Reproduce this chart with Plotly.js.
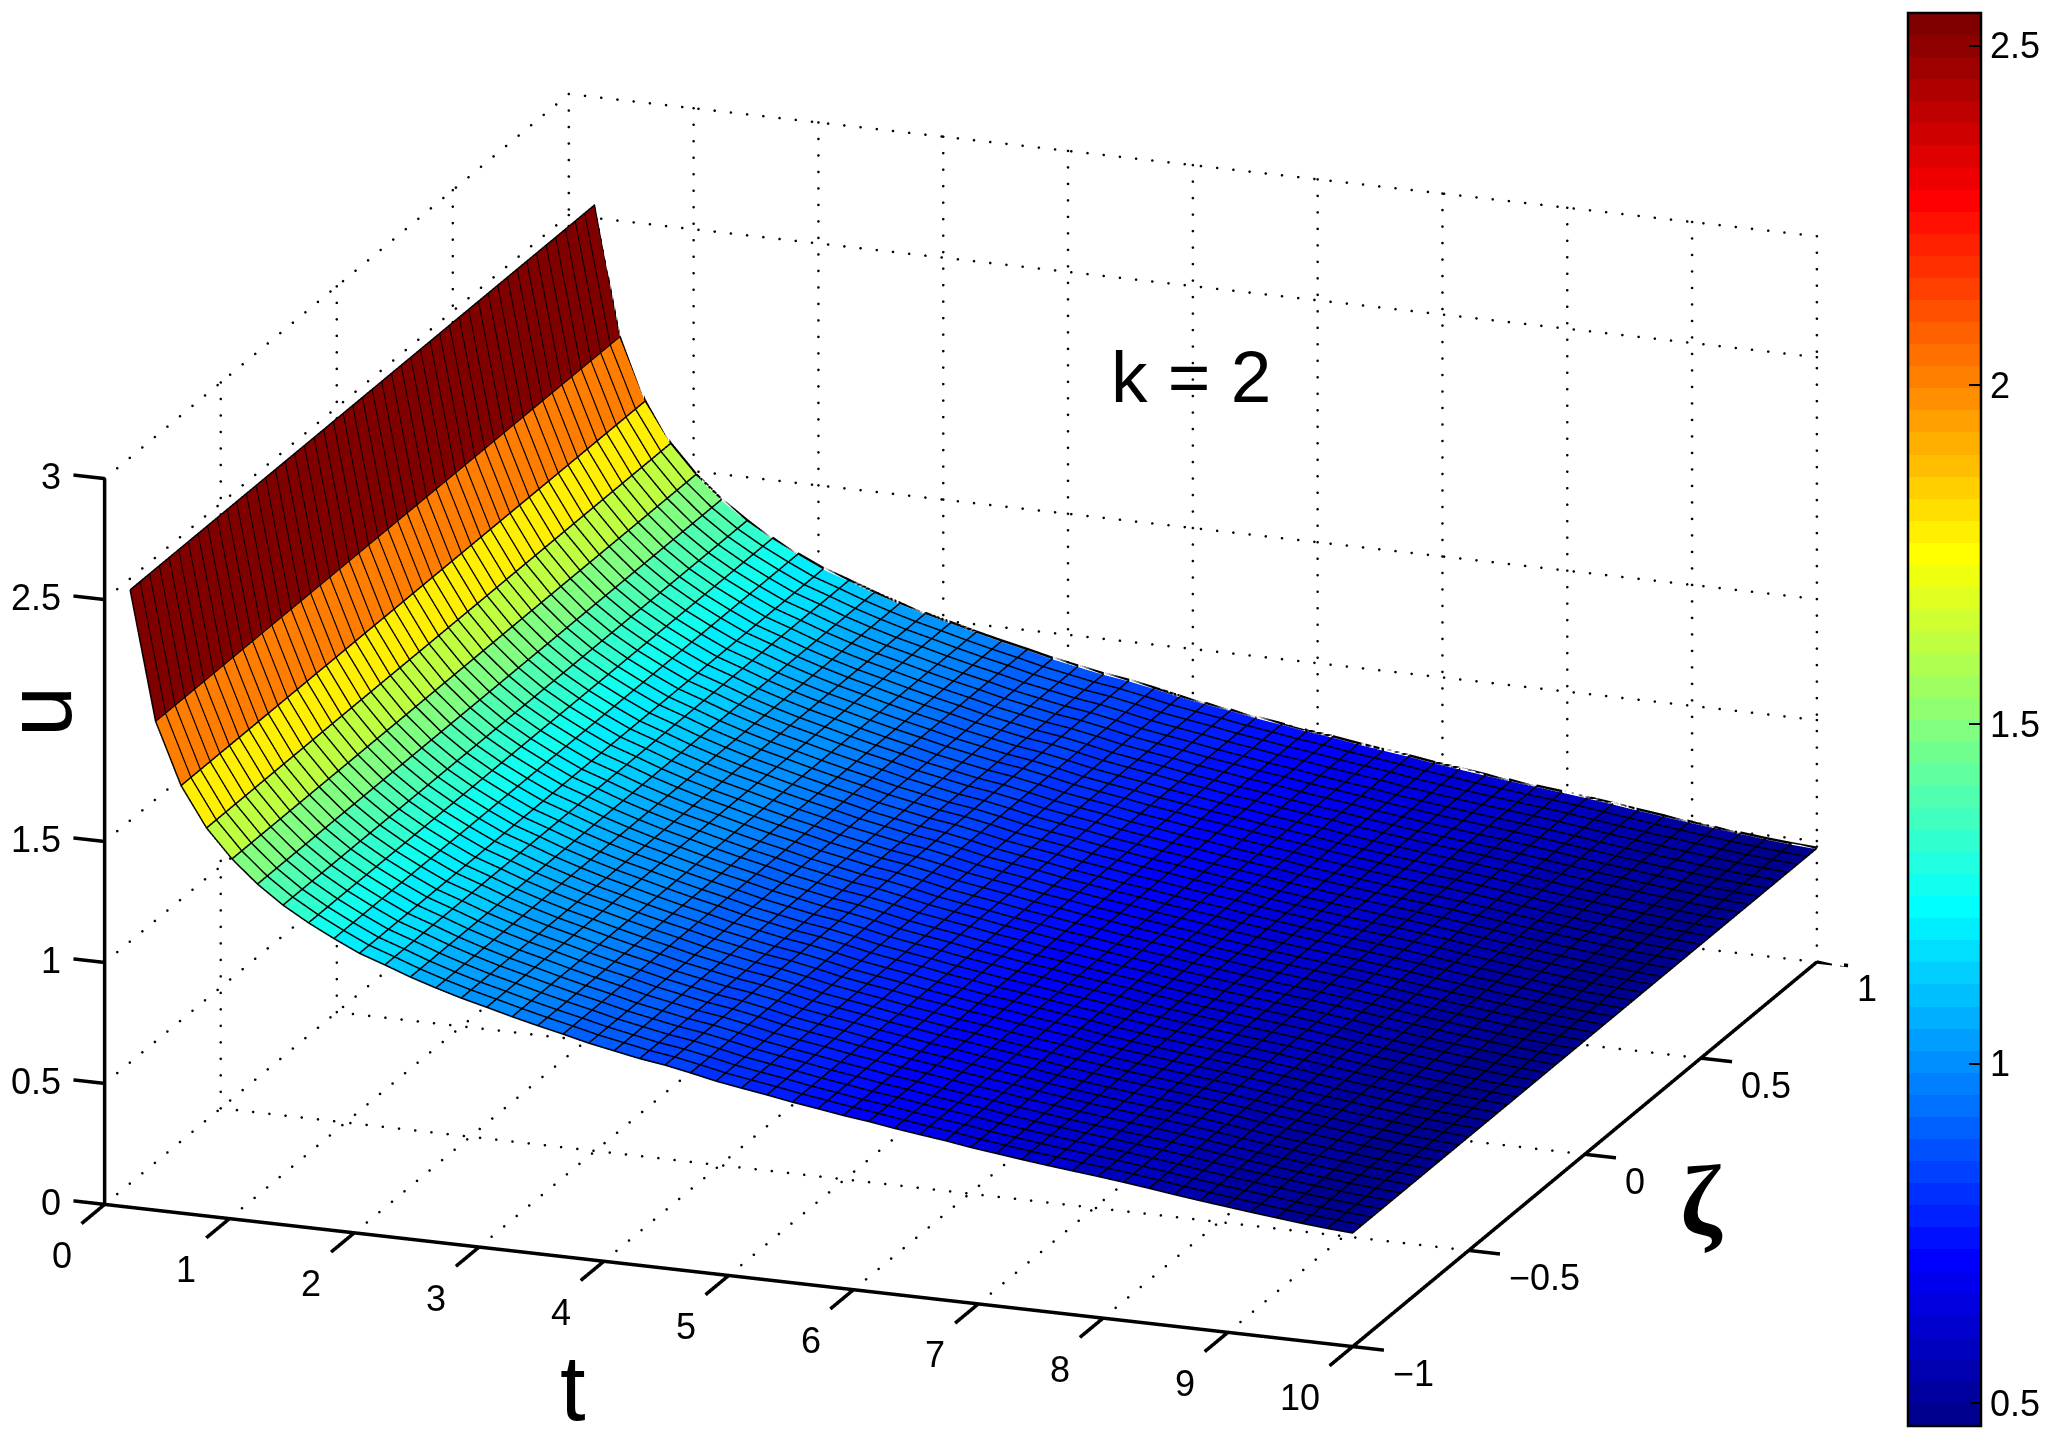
<!DOCTYPE html>
<html>
<head>
<meta charset="utf-8">
<script src="https://cdn.plot.ly/plotly-3.0.0.min.js"></script>
<style>html,body{margin:0;padding:0;background:#fff}</style>
</head>
<body>
<div id="chart" style="width:2057px;height:1439px"></div>
<script>
// Sample positions along t (49 rows)
var tValues = [0.204,0.408,0.612,0.816,1.020,1.224,1.429,1.633,1.837,2.041,2.245,2.449,2.653,2.857,3.061,3.265,3.469,3.673,3.878,4.082,4.286,4.490,4.694,4.898,5.102,5.306,5.510,5.714,5.918,6.122,6.327,6.531,6.735,6.939,7.143,7.347,7.551,7.755,7.959,8.163,8.367,8.571,8.776,8.980,9.184,9.388,9.592,9.796,10.0];
// Sample positions along zeta (49 columns)
var zetaValues = [-1,-0.958,-0.917,-0.875,-0.833,-0.792,-0.75,-0.708,-0.667,-0.625,-0.583,-0.542,-0.5,-0.458,-0.417,-0.375,-0.333,-0.292,-0.25,-0.208,-0.167,-0.125,-0.083,-0.042,0,0.042,0.083,0.125,0.167,0.208,0.25,0.292,0.333,0.375,0.417,0.458,0.5,0.542,0.583,0.625,0.667,0.708,0.75,0.792,0.833,0.875,0.917,0.958,1];
// u for each t row (it does not vary along zeta)
var uValues = [2.548,2.017,1.763,1.600,1.484,1.392,1.317,1.256,1.203,1.154,1.118,1.080,1.047,1.017,0.991,0.964,0.939,0.916,0.891,0.871,0.851,0.836,0.816,0.794,0.777,0.761,0.743,0.728,0.712,0.699,0.683,0.669,0.656,0.640,0.627,0.614,0.602,0.591,0.580,0.568,0.555,0.541,0.528,0.516,0.504,0.493,0.482,0.473,0.466];
var tTicks = [0,1,2,3,4,5,6,7,8,9,10];
var tTickText = ['0','1','2','3','4','5','6','7','8','9','10'];
var zetaTicks = [-1,-0.5,0,0.5,1];
var zetaTickText = ['−1','−0.5','0','0.5','1'];
var uTicks = [0,0.5,1,1.5,2.5,3];
var uTickText = ['0','0.5','1','1.5','2.5','3'];
var barTicks = [0.5,1,1.5,2,2.5];
var barTickText = ['0.5','1','1.5','2','2.5'];
var uMin = 0.466, uMax = 2.548;

// MATLAB jet, 64 flat levels
function ramp(j){ if(j<1||j>47) return 0; if(j<=16) return j/16; if(j<=31) return 1; return (48-j)/16; }
function jetLevel(i){
  return 'rgb('+Math.round(255*ramp(i-24))+','+Math.round(255*ramp(i-8))+','+Math.round(255*ramp(i+8))+')';
}
function jetScale(){
  var out=[], i, c;
  for(i=1;i<=64;i++){ c=jetLevel(i); out.push([(i-1)/64,c]); out.push([i/64,c]); }
  return out;
}

// rows doubled so each mesh cell keeps one flat colour, the colour of its first vertex
var tRows=[], zRows=[], cRows=[];
tValues.forEach(function(t,k){
  if(k===tValues.length-1) return;
  [k,k+1].forEach(function(q){
    tRows.push(tValues[q]);
    zRows.push(zetaValues.map(function(){return uValues[q];}));
    cRows.push(zetaValues.map(function(){return uValues[k];}));
  });
});
function transpose(m){ return m[0].map(function(_,c){return m.map(function(r){return r[c];});}); }

var surface = {
  type:'surface', x:tRows, y:zetaValues, z:transpose(zRows), surfacecolor:transpose(cRows),
  cmin:uMin, cmax:uMax, colorscale:jetScale(), hoverinfo:'skip',
  lighting:{ambient:1,diffuse:0,specular:0,fresnel:0,roughness:1},
  colorbar:{
    x:1908/2057, xanchor:'left', xpad:0, y:1-13/1439, yanchor:'top', ypad:0,
    thicknessmode:'pixels', thickness:73, lenmode:'pixels', len:1413,
    outlinecolor:'#000', outlinewidth:2.5, borderwidth:0,
    tickmode:'array', tickvals:barTicks, ticktext:barTickText,
    ticks:'inside', ticklen:13, tickwidth:2, tickcolor:'#000',
    tickfont:{family:'Liberation Sans',size:36,color:'#000'}
  }
};

// wire mesh
var wx=[],wy=[],wz=[];
var lift=0.004;
tValues.forEach(function(t,k){
  zetaValues.forEach(function(ze){wx.push(t);wy.push(ze);wz.push(uValues[k]+lift);});
  wx.push(null);wy.push(null);wz.push(null);
});
zetaValues.forEach(function(ze){
  tValues.forEach(function(t,k){wx.push(t);wy.push(ze);wz.push(uValues[k]+lift);});
  wx.push(null);wy.push(null);wz.push(null);
});
var wire = {type:'scatter3d',mode:'lines',x:wx,y:wy,z:wz,line:{color:'#000',width:3},hoverinfo:'skip',showlegend:false};

// far edge of the mesh, drawn on its own so it stays unbroken
var edge = {type:'scatter3d',mode:'lines',
  x:tValues,y:tValues.map(function(){return zetaValues[zetaValues.length-1];}),
  z:uValues.map(function(u){return u+2*lift;}),
  line:{color:'#000',width:3},hoverinfo:'skip',showlegend:false};

// dotted grid on floor and the two back walls
var gx=[],gy=[],gz=[];
function dots(a,b,n){
  for(var i=0;i<=n;i++){var f=i/n;
    gx.push(a[0]+(b[0]-a[0])*f);gy.push(a[1]+(b[1]-a[1])*f);gz.push(a[2]+(b[2]-a[2])*f);}
}
tTicks.forEach(function(t){dots([t,-1,0],[t,1,0],37);dots([t,1,0],[t,1,3],44);});
zetaTicks.forEach(function(ze){dots([0,ze,0],[10,ze,0],77);dots([0,ze,0],[0,ze,3],44);});
uTicks.forEach(function(u){dots([0,1,u],[10,1,u],77);dots([0,-1,u],[0,1,u],37);});
var grid = {type:'scatter3d',mode:'markers',x:gx,y:gy,z:gz,marker:{color:'#000',size:1.5,line:{width:0}},hoverinfo:'skip',showlegend:false};

// solid axes with their tick marks
var ax=[],ay=[],az=[];
function seg(a,b){ax.push(a[0],b[0],null);ay.push(a[1],b[1],null);az.push(a[2],b[2],null);}
seg([0,-1,0],[10,-1,0]);seg([10,-1,0],[10,1,0]);seg([0,-1,0],[0,-1,3]);
tTicks.forEach(function(t){seg([t,-1,0],[t,-1.1,0]);});
zetaTicks.forEach(function(ze){seg([10,ze,0],[10.25,ze,0]);});
uTicks.forEach(function(u){seg([0,-1,u],[-0.25,-1,u]);});
var axes = {type:'scatter3d',mode:'lines',x:ax,y:ay,z:az,line:{color:'#000',width:7},hoverinfo:'skip',showlegend:false};

function axisStyle(vals,text,range){
  return {range:range,autorange:false,tickmode:'array',tickvals:vals,ticktext:text,
    showgrid:false,zeroline:false,showbackground:false,showspikes:false,
    showline:false,ticks:'',showticklabels:false,title:{text:''}};
}
var tickFont={family:'Liberation Sans',size:36,color:'#000'};
function label(x,y,z,text,xa,xs,ys){
  return {x:x,y:y,z:z,text:text,showarrow:false,xanchor:xa,yanchor:'middle',xshift:xs,yshift:ys,font:tickFont};
}
var tickLabels=[];
tTicks.forEach(function(t,i){tickLabels.push(label(t,-1,0,tTickText[i],'right',-31,-51));});
zetaTicks.forEach(function(ze,i){tickLabels.push(label(10,ze,0,zetaTickText[i],'left',38,-27));});
uTicks.forEach(function(u,i){tickLabels.push(label(0,-1,u,uTickText[i],'right',-42,2));});

var d=2, k=1.85, cz=0.0166;
var layout = {
  width:2057,height:1439,autosize:false,
  margin:{l:0,r:0,t:0,b:0,pad:0},
  paper_bgcolor:'#fff',showlegend:false,
  scene:{
    domain:{x:[0,1896/2057],y:[0,1]},
    aspectmode:'manual',aspectratio:{x:1.052*k,y:1.003*1.055*k,z:0.573*k},
    camera:{projection:{type:'orthographic'},up:{x:0,y:0,z:1},center:{x:0,y:0,z:cz},
      eye:{x:0.3308*d,y:-0.8922*d,z:0.3072*d+cz}},
    xaxis:axisStyle(tTicks,tTickText,[-0.26,10.26]),
    yaxis:axisStyle(zetaTicks,zetaTickText,[-1.11,1]),
    zaxis:axisStyle(uTicks,uTickText,[0,3]),
    annotations:tickLabels
  },
  annotations:[
    {xref:'paper',yref:'paper',x:573/2057,y:1-1388/1439,xanchor:'center',yanchor:'middle',text:'t',showarrow:false,font:{family:'Liberation Sans',size:92,color:'#000'}},
    {xref:'paper',yref:'paper',x:39/2057,y:1-712/1439,xanchor:'center',yanchor:'middle',text:'u',textangle:-90,showarrow:false,font:{family:'Liberation Sans',size:92,color:'#000'}},
    {xref:'paper',yref:'paper',x:1701/2057,y:1-1200/1439,xanchor:'center',yanchor:'middle',text:'<b>ζ</b>',showarrow:false,font:{family:'Liberation Serif',size:100,color:'#000'}},
    {xref:'paper',yref:'paper',x:1191/2057,y:1-376/1439,xanchor:'center',yanchor:'middle',text:'k = 2',showarrow:false,font:{family:'Liberation Sans',size:73,color:'#000'}}
  ],
  shapes:barTicks.map(function(v){
    var y=1-(13+(uMax-v)/(uMax-uMin)*1413)/1439;
    return {type:'line',xref:'paper',yref:'paper',x0:1908/2057,x1:1921/2057,y0:y,y1:y,line:{color:'#000',width:2}};
  })
};
Plotly.newPlot('chart',[surface,grid,axes,wire,edge],layout,{displayModeBar:false});
</script>
</body>
</html>
